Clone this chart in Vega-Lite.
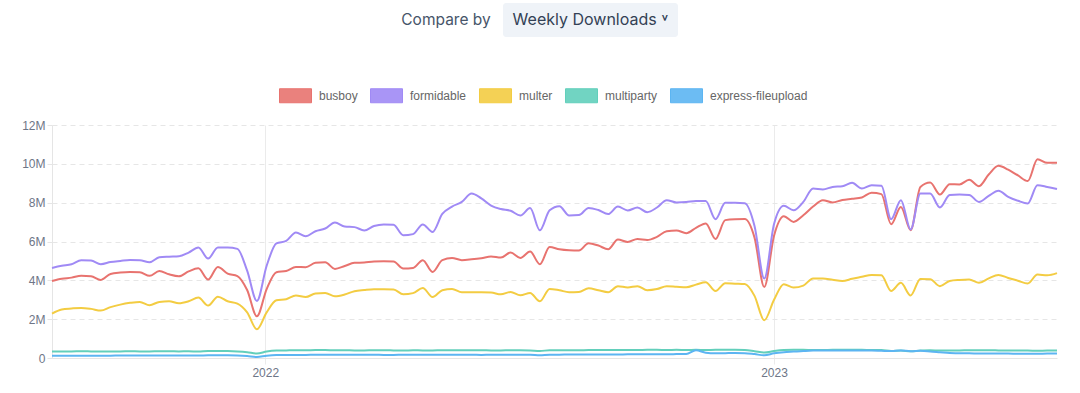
{
"$schema": "https://vega.github.io/schema/vega-lite/v6.json",
"background": "white",
"padding": {"left": 21, "top": 3, "right": 22, "bottom": 4},
"config": {"view": {"stroke": null}, "font": "Liberation Sans"},
"spacing": 82,
"center": true,
"vconcat": [
{"hconcat": [
 {"width": 86, "height": 34, "data": {"values": [{"t": "Compare by"}]},
  "mark": {"type": "text", "font": "Inter", "fontSize": 15.5, "color": "#475569"},
  "encoding": {"text": {"field": "t"}}},
 {"width": 175, "height": 34, "view": {"fill": "#eff3f8", "stroke": null, "cornerRadius": 3},
  "data": {"values": [{"t": "Weekly Downloads  ˅"}]},
  "mark": {"type": "text", "font": "Inter", "fontSize": 16, "color": "#334155"},
  "encoding": {"text": {"field": "t"}}},
 {"width": 20, "height": 34, "data": {"values": [{"t": ""}]},
  "mark": {"type": "text", "fontSize": 16},
  "encoding": {"text": {"field": "t"}}}
], "spacing": 12},
{"width": 1005, "height": 233,
 "data": {"values": [
{"date":"2021-08-01","busboy":3970000,"formidable":4640000,"multer":2290000,"multiparty":340000,"express-fileupload":120000},
{"date":"2021-08-08","busboy":4080000,"formidable":4750000,"multer":2500000,"multiparty":340000,"express-fileupload":120000},
{"date":"2021-08-15","busboy":4140000,"formidable":4830000,"multer":2550000,"multiparty":340000,"express-fileupload":120000},
{"date":"2021-08-22","busboy":4230000,"formidable":5040000,"multer":2580000,"multiparty":350000,"express-fileupload":120000},
{"date":"2021-08-29","busboy":4210000,"formidable":5020000,"multer":2530000,"multiparty":340000,"express-fileupload":120000},
{"date":"2021-09-05","busboy":4020000,"formidable":4830000,"multer":2440000,"multiparty":330000,"express-fileupload":120000},
{"date":"2021-09-12","busboy":4330000,"formidable":4940000,"multer":2620000,"multiparty":340000,"express-fileupload":120000},
{"date":"2021-09-19","busboy":4400000,"formidable":5000000,"multer":2750000,"multiparty":340000,"express-fileupload":130000},
{"date":"2021-09-26","busboy":4430000,"formidable":5050000,"multer":2840000,"multiparty":350000,"express-fileupload":130000},
{"date":"2021-10-03","busboy":4420000,"formidable":5040000,"multer":2890000,"multiparty":340000,"express-fileupload":130000},
{"date":"2021-10-10","busboy":4230000,"formidable":4930000,"multer":2720000,"multiparty":340000,"express-fileupload":130000},
{"date":"2021-10-17","busboy":4480000,"formidable":5190000,"multer":2890000,"multiparty":350000,"express-fileupload":130000},
{"date":"2021-10-24","busboy":4310000,"formidable":5220000,"multer":2920000,"multiparty":350000,"express-fileupload":130000},
{"date":"2021-10-31","busboy":4210000,"formidable":5240000,"multer":2820000,"multiparty":340000,"express-fileupload":130000},
{"date":"2021-11-07","busboy":4460000,"formidable":5430000,"multer":2920000,"multiparty":350000,"express-fileupload":130000},
{"date":"2021-11-14","busboy":4620000,"formidable":5690000,"multer":3110000,"multiparty":330000,"express-fileupload":130000},
{"date":"2021-11-21","busboy":4040000,"formidable":5120000,"multer":2700000,"multiparty":360000,"express-fileupload":140000},
{"date":"2021-11-28","busboy":4690000,"formidable":5690000,"multer":3160000,"multiparty":360000,"express-fileupload":140000},
{"date":"2021-12-05","busboy":4350000,"formidable":5690000,"multer":2920000,"multiparty":360000,"express-fileupload":140000},
{"date":"2021-12-12","busboy":4220000,"formidable":5620000,"multer":2800000,"multiparty":340000,"express-fileupload":130000},
{"date":"2021-12-19","busboy":3500000,"formidable":4500000,"multer":2350000,"multiparty":300000,"express-fileupload":100000},
{"date":"2021-12-26","busboy":2150000,"formidable":2940000,"multer":1480000,"multiparty":230000,"express-fileupload":50000},
{"date":"2022-01-02","busboy":3550000,"formidable":4750000,"multer":2350000,"multiparty":330000,"express-fileupload":120000},
{"date":"2022-01-09","busboy":4420000,"formidable":5900000,"multer":2970000,"multiparty":380000,"express-fileupload":150000},
{"date":"2022-01-16","busboy":4480000,"formidable":6030000,"multer":3030000,"multiparty":390000,"express-fileupload":150000},
{"date":"2022-01-23","busboy":4690000,"formidable":6460000,"multer":3220000,"multiparty":400000,"express-fileupload":160000},
{"date":"2022-01-30","busboy":4680000,"formidable":6270000,"multer":3140000,"multiparty":400000,"express-fileupload":160000},
{"date":"2022-02-06","busboy":4900000,"formidable":6530000,"multer":3320000,"multiparty":410000,"express-fileupload":170000},
{"date":"2022-02-13","busboy":4930000,"formidable":6670000,"multer":3350000,"multiparty":410000,"express-fileupload":170000},
{"date":"2022-02-20","busboy":4590000,"formidable":6980000,"multer":3180000,"multiparty":400000,"express-fileupload":170000},
{"date":"2022-02-27","busboy":4740000,"formidable":6770000,"multer":3270000,"multiparty":400000,"express-fileupload":170000},
{"date":"2022-03-06","busboy":4900000,"formidable":6740000,"multer":3440000,"multiparty":390000,"express-fileupload":170000},
{"date":"2022-03-13","busboy":4920000,"formidable":6570000,"multer":3500000,"multiparty":390000,"express-fileupload":170000},
{"date":"2022-03-20","busboy":4970000,"formidable":6800000,"multer":3540000,"multiparty":400000,"express-fileupload":170000},
{"date":"2022-03-27","busboy":4980000,"formidable":6880000,"multer":3540000,"multiparty":400000,"express-fileupload":160000},
{"date":"2022-04-03","busboy":4970000,"formidable":6860000,"multer":3530000,"multiparty":390000,"express-fileupload":160000},
{"date":"2022-04-10","busboy":4610000,"formidable":6320000,"multer":3280000,"multiparty":380000,"express-fileupload":170000},
{"date":"2022-04-17","busboy":4640000,"formidable":6380000,"multer":3340000,"multiparty":400000,"express-fileupload":170000},
{"date":"2022-04-24","busboy":5040000,"formidable":6880000,"multer":3610000,"multiparty":390000,"express-fileupload":170000},
{"date":"2022-05-01","busboy":4430000,"formidable":6490000,"multer":3140000,"multiparty":390000,"express-fileupload":170000},
{"date":"2022-05-08","busboy":5040000,"formidable":7420000,"multer":3490000,"multiparty":400000,"express-fileupload":170000},
{"date":"2022-05-15","busboy":5150000,"formidable":7800000,"multer":3560000,"multiparty":400000,"express-fileupload":170000},
{"date":"2022-05-22","busboy":5040000,"formidable":8040000,"multer":3390000,"multiparty":400000,"express-fileupload":170000},
{"date":"2022-05-29","busboy":5080000,"formidable":8470000,"multer":3380000,"multiparty":400000,"express-fileupload":170000},
{"date":"2022-06-05","busboy":5140000,"formidable":8220000,"multer":3380000,"multiparty":400000,"express-fileupload":160000},
{"date":"2022-06-12","busboy":5230000,"formidable":7850000,"multer":3370000,"multiparty":390000,"express-fileupload":170000},
{"date":"2022-06-19","busboy":5170000,"formidable":7670000,"multer":3280000,"multiparty":390000,"express-fileupload":170000},
{"date":"2022-06-26","busboy":5430000,"formidable":7580000,"multer":3400000,"multiparty":400000,"express-fileupload":170000},
{"date":"2022-07-03","busboy":5150000,"formidable":7340000,"multer":3230000,"multiparty":400000,"express-fileupload":170000},
{"date":"2022-07-10","busboy":5480000,"formidable":7720000,"multer":3350000,"multiparty":390000,"express-fileupload":170000},
{"date":"2022-07-17","busboy":4830000,"formidable":6580000,"multer":2920000,"multiparty":360000,"express-fileupload":140000},
{"date":"2022-07-24","busboy":5720000,"formidable":7610000,"multer":3560000,"multiparty":400000,"express-fileupload":170000},
{"date":"2022-07-31","busboy":5600000,"formidable":7820000,"multer":3490000,"multiparty":400000,"express-fileupload":170000},
{"date":"2022-08-07","busboy":5550000,"formidable":7340000,"multer":3390000,"multiparty":400000,"express-fileupload":180000},
{"date":"2022-08-14","busboy":5540000,"formidable":7360000,"multer":3400000,"multiparty":400000,"express-fileupload":180000},
{"date":"2022-08-21","busboy":5910000,"formidable":7730000,"multer":3590000,"multiparty":410000,"express-fileupload":180000},
{"date":"2022-08-28","busboy":5790000,"formidable":7620000,"multer":3490000,"multiparty":410000,"express-fileupload":180000},
{"date":"2022-09-04","busboy":5600000,"formidable":7410000,"multer":3390000,"multiparty":410000,"express-fileupload":180000},
{"date":"2022-09-11","busboy":6100000,"formidable":7800000,"multer":3700000,"multiparty":410000,"express-fileupload":180000},
{"date":"2022-09-18","busboy":5980000,"formidable":7600000,"multer":3630000,"multiparty":410000,"express-fileupload":190000},
{"date":"2022-09-25","busboy":6130000,"formidable":7750000,"multer":3700000,"multiparty":410000,"express-fileupload":190000},
{"date":"2022-10-02","busboy":6080000,"formidable":7510000,"multer":3490000,"multiparty":420000,"express-fileupload":190000},
{"date":"2022-10-09","busboy":6240000,"formidable":7750000,"multer":3550000,"multiparty":420000,"express-fileupload":190000},
{"date":"2022-10-16","busboy":6530000,"formidable":8130000,"multer":3700000,"multiparty":410000,"express-fileupload":190000},
{"date":"2022-10-23","busboy":6570000,"formidable":8010000,"multer":3670000,"multiparty":420000,"express-fileupload":200000},
{"date":"2022-10-30","busboy":6430000,"formidable":8030000,"multer":3640000,"multiparty":410000,"express-fileupload":210000},
{"date":"2022-11-06","busboy":6700000,"formidable":8090000,"multer":3780000,"multiparty":420000,"express-fileupload":400000},
{"date":"2022-11-13","busboy":6930000,"formidable":8080000,"multer":3900000,"multiparty":410000,"express-fileupload":270000},
{"date":"2022-11-20","busboy":6130000,"formidable":7150000,"multer":3450000,"multiparty":420000,"express-fileupload":240000},
{"date":"2022-11-27","busboy":7100000,"formidable":7990000,"multer":3850000,"multiparty":420000,"express-fileupload":250000},
{"date":"2022-12-04","busboy":7150000,"formidable":7990000,"multer":3830000,"multiparty":420000,"express-fileupload":260000},
{"date":"2022-12-11","busboy":7160000,"formidable":7970000,"multer":3810000,"multiparty":410000,"express-fileupload":250000},
{"date":"2022-12-18","busboy":6200000,"formidable":6800000,"multer":3200000,"multiparty":350000,"express-fileupload":200000},
{"date":"2022-12-25","busboy":3660000,"formidable":4090000,"multer":1940000,"multiparty":280000,"express-fileupload":140000},
{"date":"2023-01-01","busboy":6300000,"formidable":6900000,"multer":3000000,"multiparty":360000,"express-fileupload":240000},
{"date":"2023-01-08","busboy":7300000,"formidable":7840000,"multer":3800000,"multiparty":410000,"express-fileupload":300000},
{"date":"2023-01-15","busboy":7010000,"formidable":7610000,"multer":3630000,"multiparty":420000,"express-fileupload":330000},
{"date":"2023-01-22","busboy":7350000,"formidable":8040000,"multer":3730000,"multiparty":420000,"express-fileupload":360000},
{"date":"2023-01-29","busboy":7800000,"formidable":8730000,"multer":4100000,"multiparty":410000,"express-fileupload":380000},
{"date":"2023-02-05","busboy":8130000,"formidable":8680000,"multer":4090000,"multiparty":410000,"express-fileupload":380000},
{"date":"2023-02-12","busboy":8010000,"formidable":8810000,"multer":4030000,"multiparty":420000,"express-fileupload":380000},
{"date":"2023-02-19","busboy":8140000,"formidable":8850000,"multer":3970000,"multiparty":420000,"express-fileupload":390000},
{"date":"2023-02-26","busboy":8200000,"formidable":9020000,"multer":4080000,"multiparty":420000,"express-fileupload":390000},
{"date":"2023-03-05","busboy":8270000,"formidable":8730000,"multer":4180000,"multiparty":420000,"express-fileupload":380000},
{"date":"2023-03-12","busboy":8510000,"formidable":8900000,"multer":4280000,"multiparty":410000,"express-fileupload":380000},
{"date":"2023-03-19","busboy":8440000,"formidable":8870000,"multer":4260000,"multiparty":410000,"express-fileupload":370000},
{"date":"2023-03-26","busboy":6890000,"formidable":7150000,"multer":3450000,"multiparty":360000,"express-fileupload":360000},
{"date":"2023-04-02","busboy":7780000,"formidable":8130000,"multer":3870000,"multiparty":380000,"express-fileupload":390000},
{"date":"2023-04-09","busboy":6580000,"formidable":6620000,"multer":3220000,"multiparty":350000,"express-fileupload":350000},
{"date":"2023-04-16","busboy":8810000,"formidable":8470000,"multer":4070000,"multiparty":380000,"express-fileupload":370000},
{"date":"2023-04-23","busboy":9040000,"formidable":8470000,"multer":4060000,"multiparty":400000,"express-fileupload":340000},
{"date":"2023-04-30","busboy":8420000,"formidable":7750000,"multer":3700000,"multiparty":380000,"express-fileupload":300000},
{"date":"2023-05-07","busboy":8950000,"formidable":8390000,"multer":3970000,"multiparty":390000,"express-fileupload":260000},
{"date":"2023-05-14","busboy":8940000,"formidable":8420000,"multer":4020000,"multiparty":390000,"express-fileupload":240000},
{"date":"2023-05-21","busboy":9180000,"formidable":8400000,"multer":4040000,"multiparty":400000,"express-fileupload":240000},
{"date":"2023-05-28","busboy":8850000,"formidable":8040000,"multer":3870000,"multiparty":400000,"express-fileupload":230000},
{"date":"2023-06-04","busboy":9450000,"formidable":8350000,"multer":4100000,"multiparty":400000,"express-fileupload":230000},
{"date":"2023-06-11","busboy":9900000,"formidable":8610000,"multer":4280000,"multiparty":390000,"express-fileupload":230000},
{"date":"2023-06-18","busboy":9700000,"formidable":8300000,"multer":4120000,"multiparty":380000,"express-fileupload":230000},
{"date":"2023-06-25","busboy":9400000,"formidable":8100000,"multer":3980000,"multiparty":380000,"express-fileupload":220000},
{"date":"2023-07-02","busboy":9110000,"formidable":7960000,"multer":3840000,"multiparty":380000,"express-fileupload":220000},
{"date":"2023-07-09","busboy":10230000,"formidable":8900000,"multer":4300000,"multiparty":370000,"express-fileupload":220000},
{"date":"2023-07-16","busboy":10050000,"formidable":8810000,"multer":4260000,"multiparty":380000,"express-fileupload":230000},
{"date":"2023-07-23","busboy":10050000,"formidable":8700000,"multer":4370000,"multiparty":380000,"express-fileupload":230000}
 ]},
 "transform": [{"fold": ["busboy", "formidable", "multer", "multiparty", "express-fileupload"], "as": ["package", "downloads"]}],
 "mark": {"type": "line", "interpolate": "monotone", "strokeWidth": 2},
 "encoding": {
  "x": {"field": "date", "type": "temporal", "scale": {"type": "utc", "nice": false},
   "axis": {"title": null, "format": "%Y", "tickCount": {"interval": "year", "step": 1}, "grid": true, "gridColor": "#ebebeb",
    "domainColor": "#e5e5e5", "tickColor": "#ebebeb", "tickSize": 6, "labelColor": "#6e7687", "labelFontSize": 12, "labelPadding": 3, "labelFont": "Liberation Sans"}},
  "y": {"field": "downloads", "type": "quantitative", "scale": {"domain": [0, 12000000], "nice": false},
   "axis": {"title": null, "values": [0, 2000000, 4000000, 6000000, 8000000, 10000000, 12000000], "format": "~s",
    "labelExpr": "datum.value == 0 ? '0' : datum.label",
    "gridDash": [5, 4], "gridColor": "#e6e6e6", "domainColor": "#e5e5e5", "tickColor": "#e5e5e5", "tickSize": 5, "labelPadding": 2,
    "labelColor": "#6e7687", "labelFontSize": 12, "labelFont": "Liberation Sans"}},
  "color": {"field": "package", "type": "nominal",
   "scale": {"domain": ["busboy", "formidable", "multer", "multiparty", "express-fileupload"],
             "range": ["#e8736f", "#a08af5", "#f3cc42", "#62cfbb", "#5cb5f2"]},
   "legend": {"title": null, "orient": "none", "legendX": 227, "legendY": 76, "direction": "horizontal",
    "symbolType": "M-1,-0.4375H1V0.4375H-1Z", "symbolSize": 1024, "symbolStrokeWidth": 1,
    "labelFontSize": 12, "labelColor": "#666666", "labelFont": "Liberation Sans", "columnPadding": 10, "labelOffset": 7,
    "encode": {"symbols": {"update": {"fill": {"scale": "color", "field": "value"}, "fillOpacity": {"value": 0.9}}}}}}
 }
}
]
}
